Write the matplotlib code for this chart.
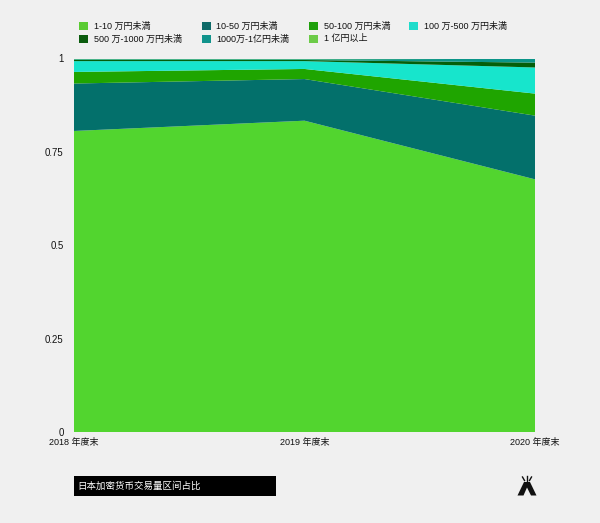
import matplotlib
matplotlib.use('Agg')
import matplotlib.pyplot as plt
from matplotlib.patches import Polygon, Rectangle

plt.rcParams['font.family'] = ['Liberation Sans', 'Noto Sans CJK SC', 'DejaVu Sans']

years = ['2018 年度末', '2019 年度末', '2020 年度末']
labels = ['1-10 万円未満', '10-50 万円未満', '50-100 万円未満', '100 万-500 万円未満',
          '500 万-1000 万円未満', '1000万-1亿円未満', '1 亿円以上']
s1 = [0.806, 0.8335, 0.6765]
s2 = [0.127, 0.1115, 0.1705]
s3 = [0.031, 0.027, 0.059]
s4 = [0.029, 0.021, 0.070]
s5 = [0.003, 0.003, 0.013]
s6 = [0.002, 0.002, 0.010]
s7 = [0.002, 0.002, 0.001]
colors = ['#52d52f', '#03706b', '#1fa500', '#17e5cc', '#045f0a', '#0a9488', '#63d040']
legend_colors = ['#5acb33', '#0e6a68', '#1f9f0c', '#1fdccb', '#0b5c0e', '#11938c', '#6ccb48']
yticks = [0, 0.25, 0.5, 0.75, 1]
ytick_labels = ['0', '0.25', '0.5', '0.75', '1']
title = '日本加密货币交易量区间占比'

bg = '#f0f0f0'
fig = plt.figure(figsize=(6, 5.23), dpi=100, facecolor=bg)

# chart area
ax = fig.add_axes([74 / 600, 1 - 432 / 523, 461 / 600, 373.5 / 523])
ax.set_facecolor(bg)
ax.stackplot(range(3), s1, s2, s3, s4, s5, s6, s7, colors=colors, linewidth=0)
ax.set_xlim(0, 2)
ax.set_ylim(0, 1)
ax.set_xticks(range(3), years)
ax.set_yticks(yticks, ytick_labels)
ax.tick_params(length=0, labelsize=6.5, colors='#111111')
ax.tick_params(axis='x', pad=4.5)
ax.tick_params(axis='y', pad=7.5, labelsize=6.9)
for sp in ax.spines.values():
    sp.set_visible(False)

# overlay in pixel coords for legend, caption and logo
ov = fig.add_axes([0, 0, 1, 1], facecolor='none')
ov.set_xlim(0, 600)
ov.set_ylim(523, 0)
ov.axis('off')

leg_pos = [(79, 26), (202, 26), (309, 26), (409, 26), (79, 39), (202, 39), (309, 39)]
for (x, y), lab, c in zip(leg_pos, labels, legend_colors):
    ov.add_patch(Rectangle((x, y - 4), 9, 8, color=c, lw=0))
    ov.text(x + 14.5, y, lab, fontsize=6.5, va='center', ha='left', color='#111111')

ov.add_patch(Rectangle((74, 475.5), 202, 20.5, color='black', lw=0))
ov.text(77.5, 486, title, color='white', fontsize=6.8, va='center', ha='left')

# logo
ov.add_patch(Polygon([(517.5, 495.5), (524, 482), (530, 482), (536.5, 495.5), (531, 495.5),
                      (527, 487.5), (523.5, 495.5)], color='#111111', lw=0))
ov.plot([522.5, 524.5], [477, 480.5], color='#111111', lw=1)
ov.plot([527, 527], [475.5, 480.5], color='#111111', lw=1)
ov.plot([531.5, 529.5], [477, 480.5], color='#111111', lw=1)

fig.savefig('out.png', dpi=100, facecolor=bg)
